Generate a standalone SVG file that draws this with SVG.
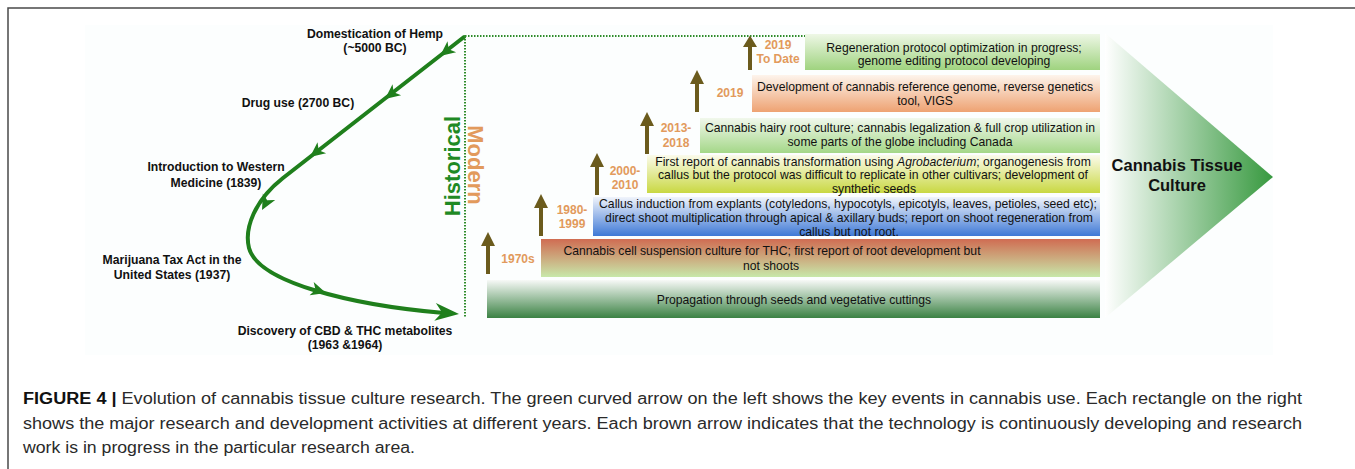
<svg xmlns="http://www.w3.org/2000/svg" width="1355" height="469" viewBox="0 0 1355 469">
<style>
.lbl{font-family:"Liberation Sans",Arial,sans-serif;font-weight:bold;font-size:12.2px;fill:#111;text-anchor:middle}
.yr{font-family:"Liberation Sans",Arial,sans-serif;font-weight:bold;font-size:12px;fill:#e29a5c;text-anchor:middle}
.bt{font-family:"Liberation Sans",Arial,sans-serif;font-size:12.2px;fill:#111;text-anchor:middle}
.cap{font-family:"Liberation Sans",Arial,sans-serif;font-size:16px;fill:#2a2a2a}
.brown{fill:#6b5b1d}
.gline{fill:none;stroke:#1f7f1c;stroke-width:4;stroke-linecap:round}
.dot{fill:none;stroke:#2e8b2a;stroke-width:2;stroke-dasharray:1.5 1.5}
</style>
<defs>
<linearGradient id="gTop" x1="0" y1="0" x2="0" y2="1"><stop offset="0" stop-color="#eef7e6"/><stop offset="1" stop-color="#9fd37f"/></linearGradient>
<linearGradient id="gOr" x1="0" y1="0" x2="0" y2="1"><stop offset="0" stop-color="#fdf4ec"/><stop offset="1" stop-color="#eea272"/></linearGradient>
<linearGradient id="gGr" x1="0" y1="0" x2="0" y2="1"><stop offset="0" stop-color="#f1f8ec"/><stop offset="1" stop-color="#a4d788"/></linearGradient>
<linearGradient id="gYe" x1="0" y1="0" x2="0" y2="1"><stop offset="0" stop-color="#fbfbec"/><stop offset="1" stop-color="#c9d842"/></linearGradient>
<linearGradient id="gBl" x1="0" y1="0" x2="0" y2="1"><stop offset="0" stop-color="#f0f4fb"/><stop offset="1" stop-color="#3f79d6"/></linearGradient>
<linearGradient id="gRd" x1="0" y1="0" x2="0" y2="1"><stop offset="0" stop-color="#d06c52"/><stop offset="1" stop-color="#c8e8aa"/></linearGradient>
<linearGradient id="gBt" x1="0" y1="0" x2="0" y2="1"><stop offset="0" stop-color="#f7f9f7"/><stop offset="1" stop-color="#3b8244"/></linearGradient>
<linearGradient id="gTri" x1="0" y1="0" x2="1" y2="0"><stop offset="0" stop-color="#ffffff"/><stop offset="1" stop-color="#37993f"/></linearGradient>
<path id="ah" d="M0,0 L-15,-7 L-11,0 L-15,7 Z" fill="#1f7f1c"/>
<path id="ahEnd" d="M0,0 L-24,-9 L-17,0 L-24,9 Z" fill="#1f7f1c"/>
<path id="bra" d="M-2,0 L-2,-28 L-7,-28 L0,-42 L7,-28 L2,-28 L2,0 Z"/>
</defs>
<rect width="1355" height="469" fill="#ffffff"/>
<rect x="85" y="25" width="1188" height="330" fill="#fcfefe"/>
<path d="M8,470 L8,8 L1356,8" fill="none" stroke="#4a4a4a" stroke-width="1.5"/>

<g id="connectors">
<path class="gline" d="M464,37 L283,178 C255,200 244,228 249,248 C258,282 350,305 444,313"/>
<use href="#ah" transform="translate(440,56) rotate(142)"/>
<use href="#ah" transform="translate(385,99) rotate(142)"/>
<use href="#ah" transform="translate(310,157) rotate(142)"/>
<use href="#ah" transform="translate(262,210) rotate(118)"/>
<use href="#ah" transform="translate(326,293) rotate(17)"/>
<use href="#ahEnd" transform="translate(459,314) rotate(5)"/>
<path class="dot" d="M465,36 L805,36 M465,36 L465,318"/>
<g class="brown">
<use href="#bra" transform="translate(488,274)"/>
<use href="#bra" transform="translate(541,236)"/>
<use href="#bra" transform="translate(597,195)"/>
<use href="#bra" transform="translate(647,154)"/>
<use href="#bra" transform="translate(697,112)"/>
<use href="#bra" transform="translate(750,70) scale(1,0.82)"/>
</g>
</g>

<g id="events">
<text class="lbl" x="375" y="38">Domestication of Hemp</text>
<text class="lbl" x="375" y="52">(~5000 BC)</text>
<text class="lbl" x="298" y="107">Drug use (2700 BC)</text>
<text class="lbl" x="216" y="171">Introduction to Western</text>
<text class="lbl" x="216" y="187">Medicine  (1839)</text>
<text class="lbl" x="172" y="264">Marijuana Tax Act in the</text>
<text class="lbl" x="172" y="279">United States (1937)</text>
<text class="lbl" x="345" y="335">Discovery of CBD &amp; THC metabolites</text>
<text class="lbl" x="345" y="349">(1963 &amp;1964)</text>
</g>

<g id="era-labels">
<text x="460" y="166" transform="rotate(-90 460 166)" text-anchor="middle" font-family="'Liberation Sans',Arial,sans-serif" font-weight="bold" font-size="22" fill="#1f8a24">Historical</text>
<text x="468" y="165" transform="rotate(90 468 165)" text-anchor="middle" font-family="'Liberation Sans',Arial,sans-serif" font-weight="bold" font-size="22" fill="#e29a5c">Modern</text>
</g>

<g id="bar-propagation">
<rect x="487" y="280" width="613" height="38" fill="url(#gBt)"/>
<text class="bt" x="794" y="304">Propagation through seeds and vegetative cuttings</text>
</g>
<g id="bar-1970s">
<rect x="541" y="239" width="559" height="38" fill="url(#gRd)"/>
<text class="yr" x="518" y="263">1970s</text>
<text class="bt" x="772" y="255">Cannabis cell suspension culture for THC;  first report of root development but</text>
<text class="bt" x="771" y="270">not shoots</text>
</g>
<g id="bar-1980">
<rect x="593" y="197" width="507" height="39" fill="url(#gBl)"/>
<text class="yr" x="572" y="214">1980-</text>
<text class="yr" x="572" y="228">1999</text>
<text class="bt" x="848" y="208">Callus induction from explants (cotyledons, hypocotyls, epicotyls, leaves, petioles, seed etc);</text>
<text class="bt" x="849" y="222">direct shoot multiplication through apical &amp; axillary buds; report on shoot regeneration from</text>
<text class="bt" x="849" y="236">callus but not root.</text>
</g>
<g id="bar-2000">
<rect x="647" y="155" width="453" height="38" fill="url(#gYe)"/>
<text class="yr" x="625" y="175">2000-</text>
<text class="yr" x="625" y="189">2010</text>
<text class="bt" x="873" y="166">First report of cannabis transformation using <tspan font-style="italic">Agrobacterium</tspan>; organogenesis  from</text>
<text class="bt" x="873" y="179">callus but the protocol was difficult to replicate in other cultivars; development of</text>
<text class="bt" x="874" y="193">synthetic seeds</text>
</g>
<g id="bar-2013">
<rect x="700" y="118" width="400" height="35" fill="url(#gGr)"/>
<text class="yr" x="676" y="132">2013-</text>
<text class="yr" x="676" y="147">2018</text>
<text class="bt" x="900" y="132">Cannabis hairy root culture; cannabis legalization &amp; full crop utilization in</text>
<text class="bt" x="900" y="146">some parts of the globe including Canada</text>
</g>
<g id="bar-2019">
<rect x="752" y="75" width="348" height="37" fill="url(#gOr)"/>
<text class="yr" x="730" y="97">2019</text>
<text class="bt" x="925" y="91">Development of cannabis reference genome, reverse genetics</text>
<text class="bt" x="925" y="105">tool, VIGS</text>
</g>
<g id="bar-todate">
<rect x="805" y="34" width="295" height="36" fill="url(#gTop)"/>
<text class="yr" x="778" y="49">2019</text>
<text class="yr" x="778" y="63">To Date</text>
<text class="bt" x="954" y="52">Regeneration protocol optimization in progress;</text>
<text class="bt" x="954" y="65">genome editing protocol developing</text>
</g>

<g id="tissue-culture">
<polygon points="1105,33 1273,177 1105,318" fill="url(#gTri)"/>
<text x="1177" y="171" text-anchor="middle" font-family="'Liberation Sans',Arial,sans-serif" font-weight="bold" font-size="16.5" fill="#111">Cannabis Tissue</text>
<text x="1177" y="191" text-anchor="middle" font-family="'Liberation Sans',Arial,sans-serif" font-weight="bold" font-size="16.5" fill="#111">Culture</text>
</g>

<g id="caption">
<text class="cap" x="23" y="404" textLength="1279" lengthAdjust="spacingAndGlyphs"><tspan font-weight="bold" fill="#111">FIGURE 4 |</tspan> Evolution of cannabis tissue culture research. The green curved arrow on the left shows the key events in cannabis use. Each rectangle on the right</text>
<text class="cap" x="23" y="429" textLength="1279" lengthAdjust="spacingAndGlyphs">shows the major research and development activities at different years. Each brown arrow indicates that the technology is continuously developing and research</text>
<text class="cap" x="23" y="453" textLength="392" lengthAdjust="spacingAndGlyphs">work is in progress in the particular research area.</text>
</g>
</svg>
